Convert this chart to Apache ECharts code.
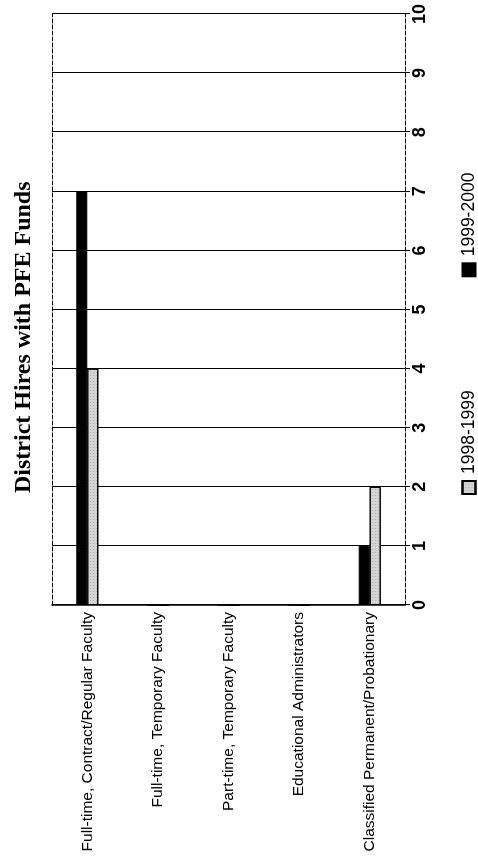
<!DOCTYPE html>
<html lang="en">
  <head>
    <meta charset="UTF-8" />
    <title>District Hires with PFE Funds</title>
    <script src="https://cdn.jsdelivr.net/npm/echarts@6/dist/echarts.min.js"></script>
    <style>
      html, body { margin: 0; padding: 0; overflow: hidden; background: #fff; }
      /* the scanned page is turned on its side, so draw the chart landscape and rotate it */
      #chart {
        position: absolute;
        left: 0;
        top: 0;
        width: 865px;
        height: 478px;
        transform-origin: 0 0;
        transform: translateY(865px) rotate(-90deg);
      }
    </style>
  </head>
  <body>
    <div id="chart"></div>
    <script>
      var categories = [
        'Full-time, Contract/Regular Faculty',
        'Full-time, Temporary Faculty',
        'Part-time, Temporary Faculty',
        'Educational Administrators',
        'Classified Permanent/Probationary',
      ];
      var hires9899 = [4, 0, 0, 0, 2];
      var hires9900 = [7, 0, 0, 0, 1];
      var seriesNames = ['1998-1999', '1999-2000'];

      var mCharts = echarts.init(document.getElementById('chart'));

      var option = {
        animation: false,
        backgroundColor: '#fff',
        title: {
          text: 'District Hires with PFE Funds',
          left: 367,
          top: 7,
          textStyle: {
            fontFamily: 'Liberation Serif',
            fontWeight: 'bold',
            fontSize: 24,
            color: '#000',
          },
        },
        legend: {
          data: seriesNames,
          left: 365,
          top: 455,
          itemWidth: 13,
          itemHeight: 13,
          itemGap: 113,
          icon: 'rect',
          textStyle: {
            fontFamily: 'Liberation Sans',
            fontSize: 17.5,
            color: '#000',
            padding: [0, 0, 0, 2],
          },
        },
        grid: {
          left: 260,
          right: 14,
          top: 52,
          bottom: 73,
        },
        xAxis: [
          {
            type: 'value',
            min: 0,
            max: 10,
            interval: 1,
            axisLine: { show: true, lineStyle: { color: '#000', type: 'dashed' } },
            axisTick: { show: true, length: 5, lineStyle: { color: '#000' } },
            axisLabel: {
              margin: 6,
              fontFamily: 'Liberation Sans',
              fontWeight: 'bold',
              fontSize: 18,
              color: '#000',
            },
            splitLine: { show: true, lineStyle: { color: '#000', width: 1 } },
          },
          {
            // dashed back edge of the plot
            type: 'value',
            position: 'top',
            min: 0,
            max: 10,
            interval: 1,
            axisLine: { show: true, lineStyle: { color: '#000', type: 'dashed' } },
            axisTick: { show: false },
            axisLabel: { show: false },
            splitLine: { show: false },
          },
        ],
        yAxis: {
          type: 'category',
          data: categories,
          inverse: true,
          axisLine: { show: true, lineStyle: { color: '#000', width: 1.5 } },
          axisTick: { show: false },
          axisLabel: {
            margin: 7,
            fontFamily: 'Liberation Sans',
            fontSize: 15.5,
            color: '#000',
          },
        },
        series: [
          {
            name: '1999-2000',
            type: 'bar',
            data: hires9900,
            barWidth: 11,
            barGap: 0,
            itemStyle: { color: '#000', borderColor: '#000', borderWidth: 1 },
          },
          {
            name: '1998-1999',
            type: 'bar',
            data: hires9899,
            barWidth: 11,
            barGap: 0,
            itemStyle: {
              color: '#d4d4d4',
              borderColor: '#000',
              borderWidth: 1,
              decal: {
                symbol: 'rect',
                symbolSize: 0.6,
                color: 'rgba(0,0,0,0.5)',
                dashArrayX: [[1, 2]],
                dashArrayY: [1, 2],
                rotation: 0,
              },
            },
          },
        ],
      };

      mCharts.setOption(option);
    </script>
  </body>
</html>
